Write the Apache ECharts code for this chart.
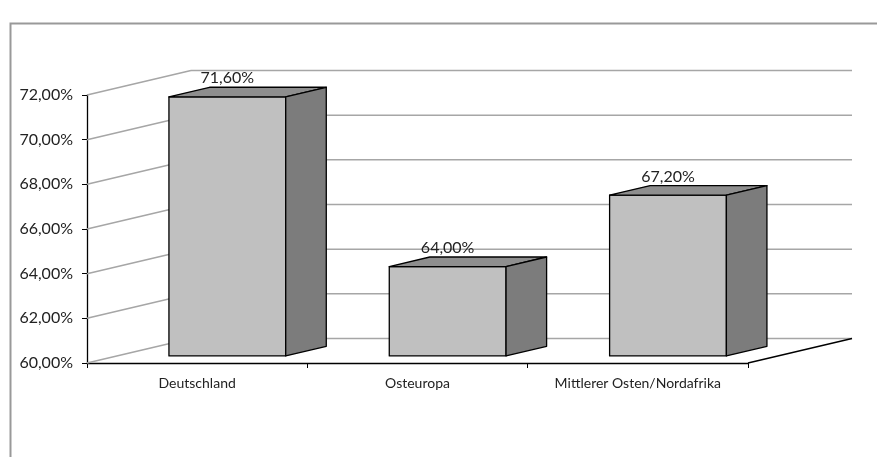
<!DOCTYPE html>
<html>
<head>
<meta charset="utf-8">
<script src="https://cdn.jsdelivr.net/npm/echarts@6/dist/echarts.min.js"></script>
<style>
 html,body{margin:0;padding:0;background:#fff;}
 #chart{width:877px;height:457px;}
</style>
</head>
<body>
<div id="chart"></div>
<script>
// Daten
var regionen = ['Deutschland', 'Osteuropa', 'Mittlerer Osten/Nordafrika'];
var anteile = [71.6, 64.0, 67.2];
var yTicks = [60, 62, 64, 66, 68, 70, 72];

var yMin = yTicks[0], yMax = yTicks[yTicks.length - 1];
var DX = 104, DY = -24.5;   // Tiefe der 3D-Wand
var FR = 0.29, BK = 0.68;    // vordere/hintere Kante der Saeulen
var schrift = 'Lato';

function fmt(v){
	return v.toFixed(2).replace('.', ',') + '%';
}

var chart = echarts.init(document.getElementById('chart'));

// Wand + Boden
function wandItem(params, api){
	var v = api.value(1);
	var cs = params.coordSys;
	var x0 = cs.x, x1 = cs.x + cs.width;
	var y = api.coord([0, v])[1];
	var kids = [
		{type:'line', shape:{x1:x0, y1:y, x2:x0 + DX, y2:y + DY}, style:{stroke:'#a6a6a6', lineWidth:1.5}},
		{type:'line', shape:{x1:x0 + DX, y1:y + DY, x2:x1 + DX, y2:y + DY}, style:{stroke:'#a6a6a6', lineWidth:1.5}}
	];
	if(v === yMin){
		kids.push({type:'line', shape:{x1:x1, y1:y, x2:x1 + DX, y2:y + DY}, style:{stroke:'#000', lineWidth:1.3}});
	}
	return {type:'group', children:kids};
}

// 3D-Saeulen
function saeuleItem(params, api){
	var idx = api.value(0), val = api.value(1);
	var c = api.coord([idx, val]);
	var b = api.coord([idx, yMin]);
	var band = api.size([1, 0])[0];
	var w = band * 0.53;
	var fx = c[0] + FR * DX - w / 2;
	var ty = c[1] + FR * DY, by = b[1] + FR * DY;
	var ddx = (BK - FR) * DX, ddy = (BK - FR) * DY;
	var rand = {stroke:'#000', lineWidth:1.3, lineJoin:'round'};
	return {type:'group', children:[
		{type:'polygon', shape:{points:[[fx, ty], [fx + w, ty], [fx + w, by], [fx, by]]},
			style:Object.assign({fill:'#c0c0c0'}, rand)},
		{type:'polygon', shape:{points:[[fx, ty], [fx + w, ty], [fx + w + ddx, ty + ddy], [fx + ddx, ty + ddy]]},
			style:Object.assign({fill:'#8e8e8e'}, rand)},
		{type:'polygon', shape:{points:[[fx + w, ty], [fx + w + ddx, ty + ddy], [fx + w + ddx, by + ddy], [fx + w, by]]},
			style:Object.assign({fill:'#7c7c7c'}, rand)},
		{type:'text', style:{x:fx + w / 2, y:ty + ddy - 9, text:fmt(val), textAlign:'center', textVerticalAlign:'middle',
			fill:'#222', font:'16px ' + schrift}}
	]};
}

var option = {
	animation:false,
	backgroundColor:'#fff',
	graphic:[{
		type:'rect', left:8, top:21, shape:{width:900, height:500},
		style:{fill:'none', stroke:'#999', lineWidth:2}, silent:true
	}],
	grid:{left:87, right:129, top:95, bottom:94},
	xAxis:{
		type:'category',
		data:regionen,
		boundaryGap:true,
		axisLine:{lineStyle:{color:'#000', width:1.3}},
		axisTick:{show:true, length:5, lineStyle:{color:'#000'}},
		axisLabel:{color:'#222', fontSize:14, fontFamily:schrift, margin:13}
	},
	yAxis:{
		type:'value',
		min:yMin, max:yMax, interval:2,
		axisLine:{show:true, lineStyle:{color:'#000', width:1.3}},
		axisTick:{show:true, length:5, lineStyle:{color:'#000'}},
		splitLine:{show:false},
		axisLabel:{color:'#222', fontSize:16, fontFamily:schrift, margin:14, formatter:fmt}
	},
	series:[{
		type:'custom',
		z:1,
		silent:true,
		renderItem:wandItem,
		encode:{x:0, y:1},
		data:yTicks.map(function(v){ return [0, v]; })
	},{
		type:'custom',
		z:3,
		renderItem:saeuleItem,
		encode:{x:0, y:1},
		data:anteile.map(function(v, i){ return [i, v]; })
	}]
};

chart.setOption(option);
</script>
</body>
</html>
